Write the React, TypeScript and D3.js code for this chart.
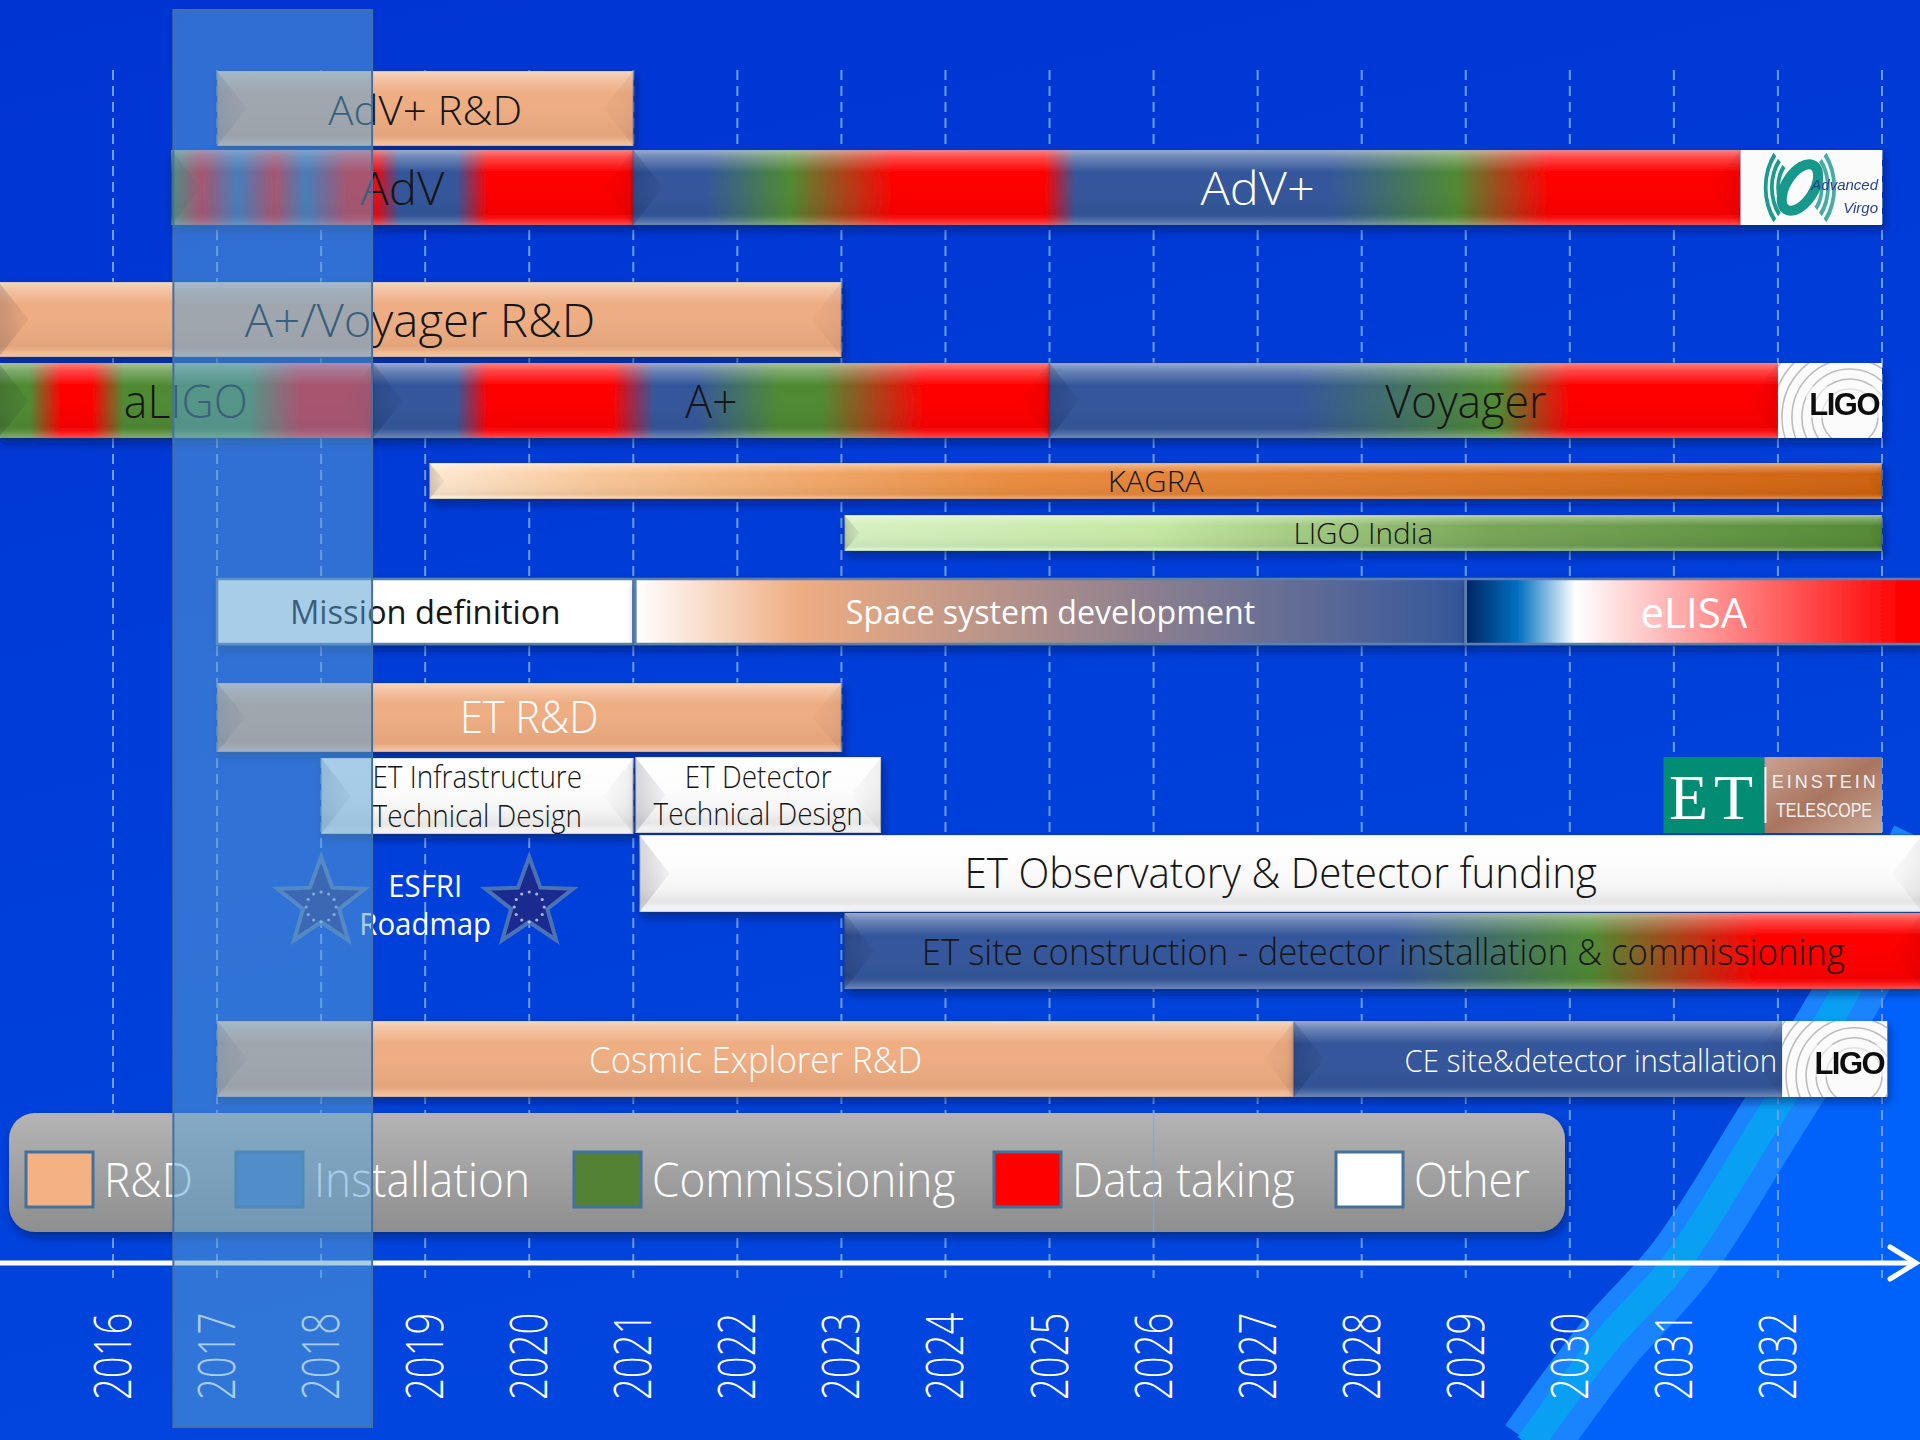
import React, { useEffect, useRef } from 'react';
import * as d3 from 'd3';

const W = 1920;
const H = 1440;

// time axis: grid lines every year, the last one (2033) has no label
const yearLabels = d3.range(2016, 2033);
const gridYears = d3.range(2016, 2034);

const legendNames = ['R&D', 'Installation', 'Commissioning', 'Data taking', 'Other'];
const legendSwatch = ['#f4b183', '#4677bd', '#548235', '#ff0000', '#ffffff'];

// phase changes along the detector bars, [year, phase]
// R = R&D, I = installation, C = commissioning, D = data taking, O = other
const aligoPhases = [[2014.9, 'C'], [2015.2, 'C'], [2015.5, 'D'], [2015.8, 'D'], [2016.1, 'C'], [2017.3, 'C'], [2017.8, 'D'], [2018.5, 'D']];
const advPhases = [[2016.56, 'C'], [2016.85, 'D'], [2017.2, 'I'], [2017.55, 'D'], [2017.85, 'I'], [2018.25, 'D'], [2018.5, 'D'], [2018.75, 'I'], [2019.3, 'I'], [2019.6, 'D'], [2021, 'D']];
const advPlusPhases = [[2021, 'I'], [2021.7, 'I'], [2022.5, 'C'], [2023.5, 'D'], [2024.95, 'D'], [2025.25, 'I'], [2027.7, 'I'], [2028.9, 'C'], [2029.8, 'D'], [2031.64, 'D']];
const aPlusPhases = [[2018.5, 'I'], [2019.3, 'I'], [2019.6, 'D'], [2020.8, 'D'], [2021.2, 'I'], [2021.6, 'I'], [2022.4, 'C'], [2022.8, 'C'], [2023.8, 'D'], [2025, 'D']];
const voyagerPhases = [[2025, 'I'], [2027.4, 'I'], [2029.3, 'C'], [2030.0, 'D'], [2032, 'D']];
const spacePhases = [[2021.02, 'O'], [2022.6, 'R'], [2029, 'I']];
const etSitePhases = [[2023.03, 'I'], [2028.3, 'I'], [2030.2, 'C'], [2031.8, 'D'], [2033.4, 'D']];

const bars = [
  { id: 'advRD', name: 'AdV+ R&D', from: 2017, to: 2021, phases: 'R' },
  { id: 'adv', name: 'AdV', from: 2016.56, to: 2021, phases: advPhases },
  { id: 'advPlus', name: 'AdV+', from: 2021, to: 2031.64, phases: advPlusPhases, logo: 'virgo', logoTo: 2033 },
  { id: 'apRD', name: 'A+/Voyager R&D', from: 2014.9, to: 2023, phases: 'R' },
  { id: 'aligo', name: 'aLIGO', from: 2014.9, to: 2018.5, phases: aligoPhases },
  { id: 'aplus', name: 'A+', from: 2018.5, to: 2025, phases: aPlusPhases },
  { id: 'voyager', name: 'Voyager', from: 2025, to: 2032, phases: voyagerPhases, logo: 'ligo', logoTo: 2033 },
  { id: 'kagra', name: 'KAGRA', from: 2019.04, to: 2033 },
  { id: 'india', name: 'LIGO India', from: 2023.03, to: 2033 },
  { id: 'mission', name: 'Mission definition', from: 2017, to: 2021, phases: 'O' },
  { id: 'space', name: 'Space system development', from: 2021.02, to: 2029, phases: spacePhases },
  { id: 'elisa', name: 'eLISA', from: 2029, to: 2033.4 },
  { id: 'etRD', name: 'ET R&D', from: 2017, to: 2023, phases: 'R' },
  { id: 'etInfra', name: 'ET Infrastructure|Technical Design', from: 2018, to: 2021 },
  { id: 'etDet', name: 'ET Detector|Technical Design', from: 2021.02, to: 2023.38 },
  { id: 'etFund', name: 'ET Observatory & Detector funding', from: 2021.06, to: 2033.4 },
  { id: 'etSite', name: 'ET site construction - detector installation & commissioning', from: 2023.03, to: 2033.4, phases: etSitePhases },
  { id: 'ceRD', name: 'Cosmic Explorer R&D', from: 2017, to: 2027.35, phases: 'R' },
  { id: 'ceInst', name: 'CE site&detector installation', from: 2027.35, to: 2032.04, phases: 'I', logo: 'ligo', logoTo: 2033.05 },
];

const etLogo = { from: 2030.9, to: 2033 };
const esfriYears = [2018, 2020];
const highlight = { from: 2016.58, to: 2018.49 };

const FONT = "'Open Sans', 'Segoe UI', sans-serif";
const INK = '#161616';

const phaseFill = { R: '#efad82', I: '#33569b', C: '#4f8a32', D: '#ff0000', O: '#ffffff' };

// row geometry and look of each bar
const look = {
  advRD: { y: 71, h: 75, fs: 40, sx: 1.05, base: [125], ink: INK },
  adv: { y: 150, h: 75, fs: 46, sx: 1.03, base: [205], ink: INK },
  advPlus: { y: 150, h: 75, fs: 46, sx: 1.06, base: [205], ink: '#ffffff' },
  apRD: { y: 282, h: 75, fs: 46, sx: 1.03, base: [337], ink: INK },
  aligo: { y: 363, h: 75, fs: 46, sx: 0.97, base: [418], ink: INK },
  aplus: { y: 363, h: 75, fs: 46, sx: 0.97, base: [418], ink: INK },
  voyager: { y: 363, h: 75, fs: 46, sx: 0.97, base: [418], ink: INK },
  kagra: { y: 463, h: 36, fs: 30, sx: 1.03, base: [492], ink: INK, grad: [[0, '#fde8cf'], [0.12, '#f7c596'], [0.4, '#e98c40'], [1, '#cf620f']] },
  india: { y: 515, h: 36, fs: 30, sx: 0.99, base: [544], ink: INK, grad: [[0, '#d6f0c0'], [0.3, '#c5e8a3'], [0.62, '#78a658'], [1, '#548a34']] },
  mission: { y: 579, h: 65, fs: 33, sx: 0.99, base: [624], ink: INK, flat: true, weight: 400 },
  space: { y: 579, h: 65, fs: 33, sx: 0.975, base: [624], ink: '#ffffff', flat: true, weight: 400 },
  elisa: { y: 579, h: 65, fs: 42, sx: 1.0, base: [628], ink: '#ffffff', flat: true, weight: 400, grad: [[0, '#002462'], [0.114, '#0070c0'], [0.24, '#ffffff'], [0.52, '#ff9a9a'], [0.96, '#ff0000'], [1, '#ff0000']] },
  etRD: { y: 683, h: 69, fs: 44, sx: 0.94, base: [733], ink: '#ffffff' },
  etInfra: { y: 758, h: 76, fs: 31, sx: 0.9, base: [788, 827], ink: INK, white: true },
  etDet: { y: 757, h: 76, fs: 31, sx: 0.9, base: [788, 825], ink: INK, white: true },
  etFund: { y: 835, h: 77, fs: 42, sx: 0.96, base: [888], ink: INK, white: true },
  etSite: { y: 913, h: 76, fs: 37, sx: 0.94, base: [965], ink: INK },
  ceRD: { y: 1021, h: 76, fs: 37, sx: 0.94, base: [1073], ink: '#ffffff' },
  ceInst: { y: 1021, h: 76, fs: 32, sx: 0.92, base: [1072], ink: '#ffffff', anchor: 'end' },
};

const App = () => {
  const svgRef = useRef(null);

  useEffect(() => {
    if (!svgRef.current) return;
    const svg = d3.select(svgRef.current);
    svg.selectAll('*').remove();

    const x = d3.scaleLinear().domain([2016, 2033]).range([113, 1882]);
    const defs = svg.append('defs');

    const addText = (g, str, tx, ty, fs, fill, anchor = 'middle', weight = 300, sx = 0.9) =>
      g
        .append('text')
        .attr('transform', `translate(${tx},${ty}) scale(${sx},1)`)
        .attr('text-anchor', anchor)
        .attr('font-family', FONT)
        .attr('font-size', fs)
        .attr('font-weight', weight)
        .attr('fill', fill)
        .text(str);

    // background
    const bg = defs.append('linearGradient').attr('id', 'bg').attr('x1', 0).attr('y1', 0).attr('x2', 0.3).attr('y2', 1);
    bg.append('stop').attr('offset', 0).attr('stop-color', '#0034d2');
    bg.append('stop').attr('offset', 1).attr('stop-color', '#0046de');

    const gloss = defs.append('linearGradient').attr('id', 'gloss').attr('x1', 0).attr('y1', 0).attr('x2', 0).attr('y2', 1);
    [
      [0, '#fff', 0.5],
      [0.1, '#fff', 0.28],
      [0.3, '#fff', 0],
      [0.84, '#000', 0.05],
      [0.93, '#fff', 0.12],
      [1, '#fff', 0.3],
    ].forEach(([o, c, a]) => gloss.append('stop').attr('offset', o).attr('stop-color', c).attr('stop-opacity', a));

    // soft bevel facets at the bar ends
    const bevelL = defs.append('linearGradient').attr('id', 'bevelL').attr('x1', 0).attr('y1', 0).attr('x2', 1).attr('y2', 0);
    bevelL.append('stop').attr('offset', 0).attr('stop-color', '#000020').attr('stop-opacity', 0.16);
    bevelL.append('stop').attr('offset', 1).attr('stop-color', '#000020').attr('stop-opacity', 0.04);
    const bevelR = defs.append('linearGradient').attr('id', 'bevelR').attr('x1', 1).attr('y1', 0).attr('x2', 0).attr('y2', 0);
    bevelR.append('stop').attr('offset', 0).attr('stop-color', '#000000').attr('stop-opacity', 0.06);
    bevelR.append('stop').attr('offset', 1).attr('stop-color', '#000000').attr('stop-opacity', 0.01);

    const whiteFill = defs.append('linearGradient').attr('id', 'whiteFill').attr('x1', 0).attr('y1', 0).attr('x2', 0).attr('y2', 1);
    whiteFill.append('stop').attr('offset', 0).attr('stop-color', '#ffffff');
    whiteFill.append('stop').attr('offset', 0.7).attr('stop-color', '#fbfbfb');
    whiteFill.append('stop').attr('offset', 1).attr('stop-color', '#ececec');

    const legendFill = defs.append('linearGradient').attr('id', 'legendFill').attr('x1', 0).attr('y1', 0).attr('x2', 0).attr('y2', 1);
    legendFill.append('stop').attr('offset', 0).attr('stop-color', '#b4b4b4');
    legendFill.append('stop').attr('offset', 1).attr('stop-color', '#8e8e8e');

    const shadow = defs.append('filter').attr('id', 'shadow').attr('x', '-5%').attr('y', '-30%').attr('width', '112%').attr('height', '170%');
    shadow
      .append('feDropShadow')
      .attr('dx', 2)
      .attr('dy', 5)
      .attr('stdDeviation', 4)
      .attr('flood-color', '#001040')
      .attr('flood-opacity', 0.5);

    svg.append('rect').attr('width', W).attr('height', H).attr('fill', 'url(#bg)');

    // light swoosh in the lower right corner
    const curve = d3.line().curve(d3.curveCatmullRom);
    const swooshRight = [[1572, 1445], [1642, 1345], [1715, 1262], [1792, 1130], [1882, 989], [1945, 850]];
    svg
      .append('path')
      .attr('d', curve(swooshRight) + `L1945,1445Z`)
      .attr('fill', '#0062fb');
    const swooshMid = [[1533, 1445], [1607, 1345], [1681, 1262], [1765, 1130], [1851, 989], [1925, 840]];
    svg.append('path').attr('d', curve(swooshMid)).attr('fill', 'none').attr('stroke', '#1a84ff').attr('stroke-width', 68);
    svg
      .append('path')
      .attr('d', curve(swooshMid.map(([a, b]) => [a - 4, b])))
      .attr('fill', 'none')
      .attr('stroke', '#08a2f2')
      .attr('stroke-width', 28)
      .attr('opacity', 0.9);

    // grid
    svg
      .append('g')
      .selectAll('line')
      .data(gridYears)
      .join('line')
      .attr('x1', (d) => x(d))
      .attr('x2', (d) => x(d))
      .attr('y1', 70)
      .attr('y2', 1278)
      .attr('stroke', '#6c9ef2')
      .attr('stroke-width', 2)
      .attr('stroke-dasharray', '10,6');

    const barLayer = svg.append('g');

    const phaseGradient = (id, from, to, phases) => {
      const g = defs
        .append('linearGradient')
        .attr('id', id)
        .attr('gradientUnits', 'userSpaceOnUse')
        .attr('x1', x(from))
        .attr('x2', x(to))
        .attr('y1', 0)
        .attr('y2', 0);
      phases.forEach(([yr, p]) => g.append('stop').attr('offset', (yr - from) / (to - from)).attr('stop-color', phaseFill[p]));
      return `url(#${id})`;
    };

    const fracGradient = (id, stops) => {
      const g = defs.append('linearGradient').attr('id', id).attr('x1', 0).attr('x2', 1).attr('y1', 0).attr('y2', 0);
      stops.forEach(([o, c]) => g.append('stop').attr('offset', o).attr('stop-color', c));
      return `url(#${id})`;
    };

    const virgoLogo = (g, x0, x1, y, h) => {
      g.append('rect').attr('x', x0).attr('y', y).attr('width', x1 - x0).attr('height', h).attr('fill', '#fbfbfb');
      const cx = x0 + (x1 - x0) * 0.42;
      const cy = y + h / 2;
      const lg = g.append('g').attr('transform', `translate(${cx},${cy}) scale(0.78,1.1)`);
      const arc = d3.arc();
      [28, 36, 44].forEach((r) => {
        lg.append('path')
          .attr('d', arc({ innerRadius: r - 2.4, outerRadius: r + 2.4, startAngle: -Math.PI / 2 - 0.75, endAngle: -Math.PI / 2 + 0.75 }))
          .attr('fill', '#1a9a8e');
        lg.append('path')
          .attr('d', arc({ innerRadius: r - 2.4, outerRadius: r + 2.4, startAngle: Math.PI / 2 - 0.75, endAngle: Math.PI / 2 + 0.75 }))
          .attr('fill', '#1a9a8e')
          .attr('opacity', 0.8);
      });
      g.append('ellipse')
        .attr('cx', cx)
        .attr('cy', cy)
        .attr('rx', 14)
        .attr('ry', 26)
        .attr('transform', `rotate(32,${cx},${cy})`)
        .attr('fill', 'none')
        .attr('stroke', '#14988a')
        .attr('stroke-width', 10);
      ['Advanced', 'Virgo'].forEach((t, i) =>
        g
          .append('text')
          .attr('x', x1 - 4)
          .attr('y', cy + 2 + i * 23)
          .attr('text-anchor', 'end')
          .attr('font-family', "'Liberation Sans', sans-serif")
          .attr('font-style', 'italic')
          .attr('font-size', 15)
          .attr('fill', '#2b3f8c')
          .text(t)
      );
    };

    let clipId = 0;
    const ligoLogo = (g, x0, x1, y, h) => {
      const id = `ligoClip${clipId++}`;
      defs.append('clipPath').attr('id', id).append('rect').attr('x', x0).attr('y', y).attr('width', x1 - x0).attr('height', h);
      g.append('rect').attr('x', x0).attr('y', y).attr('width', x1 - x0).attr('height', h).attr('fill', '#fbfbfb');
      const cg = g.append('g').attr('clip-path', `url(#${id})`);
      [28, 38, 48, 58, 68, 78, 88].forEach((r) =>
        cg
          .append('circle')
          .attr('cx', x0 + 72)
          .attr('cy', y + h * 0.72)
          .attr('r', r)
          .attr('fill', 'none')
          .attr('stroke', '#bdbdbd')
          .attr('stroke-width', 1.6)
      );
      cg.append('rect').attr('x', x0 + 28).attr('y', y + h * 0.55 - 18).attr('width', x1 - x0 - 28).attr('height', 32).attr('fill', '#fbfbfb').attr('opacity', 0.6);
      g.append('text')
        .attr('x', x1 - 3)
        .attr('y', y + h * 0.55 + 11)
        .attr('text-anchor', 'end')
        .attr('font-family', "'Liberation Sans', sans-serif")
        .attr('font-weight', 700)
        .attr('font-size', 31)
        .attr('letter-spacing', -1.5)
        .attr('fill', '#111')
        .text('LIGO');
    };

    bars.forEach((b) => {
      const L = look[b.id];
      const x0 = Math.max(x(b.from), -2);
      const x1 = Math.min(x(b.to), W + 2);
      const { y, h } = L;
      let fill;
      if (Array.isArray(b.phases)) fill = phaseGradient(`g-${b.id}`, b.from, b.to, b.phases);
      else if (b.phases) fill = phaseFill[b.phases];
      else if (L.grad) fill = fracGradient(`g-${b.id}`, L.grad);
      else fill = 'url(#whiteFill)';
      if (L.white) fill = 'url(#whiteFill)';

      const g = barLayer.append('g').attr('filter', 'url(#shadow)');
      g.append('rect')
        .attr('x', x0)
        .attr('y', y)
        .attr('width', x1 - x0)
        .attr('height', h)
        .attr('fill', fill)
        .attr('stroke', L.flat ? '#5b7fb3' : 'rgba(40,60,110,0.35)')
        .attr('stroke-width', L.flat ? 2.5 : 1.5);

      if (!L.flat) {
        g.append('rect').attr('x', x0).attr('y', y).attr('width', x1 - x0).attr('height', h).attr('fill', 'url(#gloss)');
        const bw = Math.min(30, h * 0.42);
        g.append('path').attr('d', `M${x0},${y}L${x0 + bw},${y + h / 2}L${x0},${y + h}Z`).attr('fill', 'url(#bevelL)');
        g.append('path').attr('d', `M${x1},${y}L${x1 - bw},${y + h / 2}L${x1},${y + h}Z`).attr('fill', 'url(#bevelR)');
      }

      let cx = (x0 + x1) / 2;
      if (b.logo) {
        const lx1 = x(b.logoTo);
        if (b.logo === 'virgo') virgoLogo(g, x1, lx1, y, h);
        else ligoLogo(g, x1, lx1, y, h);
        cx = (x0 + lx1) / 2;
      }
      const lines = b.name.split('|');
      const tx = L.anchor === 'end' ? x1 - 5 : cx;
      lines.forEach((line, i) => addText(barLayer, line, tx, L.base[i], L.fs, L.ink, L.anchor || 'middle', L.weight || 300, L.sx));
    });

    // Einstein Telescope logo
    {
      const x0 = x(etLogo.from);
      const x1 = x(etLogo.to);
      const y = 757;
      const h = 76;
      const split = x0 + 101;
      const g = svg.append('g');
      const brown = defs.append('linearGradient').attr('id', 'etBrown').attr('x1', 0).attr('y1', 0).attr('x2', 1).attr('y2', 1);
      brown.append('stop').attr('offset', 0).attr('stop-color', '#c9a292');
      brown.append('stop').attr('offset', 0.5).attr('stop-color', '#a9755f');
      brown.append('stop').attr('offset', 1).attr('stop-color', '#c8a898');
      g.append('rect').attr('x', x0).attr('y', y).attr('width', split - x0).attr('height', h).attr('fill', '#008d74');
      g.append('rect').attr('x', split).attr('y', y).attr('width', x1 - split).attr('height', h).attr('fill', 'url(#etBrown)');
      g.append('line').attr('x1', split + 1).attr('x2', split + 1).attr('y1', y + 10).attr('y2', y + h - 10).attr('stroke', '#f4f4f4').attr('stroke-width', 2);
      g.append('text')
        .attr('x', (x0 + split) / 2)
        .attr('y', y + 62)
        .attr('text-anchor', 'middle')
        .attr('font-family', "'Liberation Serif', serif")
        .attr('font-size', 64)
        .attr('letter-spacing', 6)
        .attr('fill', '#ffffff')
        .text('ET');
      g.append('text')
        .attr('x', (split + x1) / 2 + 2)
        .attr('y', y + 31)
        .attr('text-anchor', 'middle')
        .attr('font-family', "'Liberation Sans', sans-serif")
        .attr('font-size', 18)
        .attr('letter-spacing', 3)
        .attr('fill', '#f6f0ee')
        .text('EINSTEIN');
      g.append('text')
        .attr('x', (split + x1) / 2 + 1)
        .attr('y', y + 60)
        .attr('text-anchor', 'middle')
        .attr('font-family', "'Liberation Sans Narrow', 'Liberation Sans', sans-serif")
        .attr('font-size', 20)
        .attr('fill', '#f6f0ee')
        .attr('transform', `translate(${(split + x1) / 2},0) scale(0.8,1) translate(${-(split + x1) / 2},0)`)
        .text('TELESCOPE');
    }

    // ESFRI roadmap stars
    const starPath = (cx, cy, R, r) =>
      'M' +
      d3
        .range(10)
        .map((i) => {
          const a = -Math.PI / 2 + (i * Math.PI) / 5;
          const rr = i % 2 ? r : R;
          return [cx + rr * Math.cos(a), cy + rr * Math.sin(a)].join(',');
        })
        .join('L') +
      'Z';
    esfriYears.forEach((yr) => {
      const cx = x(yr);
      const cy = 903;
      svg.append('path').attr('d', starPath(cx, cy, 46, 19)).attr('fill', '#1b2a8e').attr('stroke', '#4b72b6').attr('stroke-width', 4);
      d3.range(12).forEach((i) => {
        const a = (i * Math.PI) / 6;
        svg
          .append('circle')
          .attr('cx', cx + 15 * Math.cos(a))
          .attr('cy', cy + 4 + 15 * Math.sin(a))
          .attr('r', 1.6)
          .attr('fill', '#dfe6ff')
          .attr('opacity', 0.75);
      });
    });
    addText(svg, 'ESFRI', x(2019), 897, 31, '#ffffff', 'middle', 400, 0.95);
    addText(svg, 'Roadmap', x(2019), 935, 31, '#ffffff', 'middle', 400, 0.95);

    // legend
    const legend = svg.append('g');
    legend
      .append('rect')
      .attr('x', 9)
      .attr('y', 1113)
      .attr('width', 1556)
      .attr('height', 119)
      .attr('rx', 26)
      .attr('fill', 'url(#legendFill)')
      .attr('filter', 'url(#shadow)');
    const legendX = [26, 236, 574, 994, 1336];
    legendNames.forEach((name, i) => {
      legend
        .append('rect')
        .attr('x', legendX[i])
        .attr('y', 1152)
        .attr('width', 67)
        .attr('height', 55)
        .attr('fill', legendSwatch[i])
        .attr('stroke', '#41719c')
        .attr('stroke-width', 3);
      addText(legend, name, legendX[i] + 78, 1197, 48, '#ffffff', 'start', 300, 0.92);
    });
    legend
      .append('line')
      .attr('x1', x(2026))
      .attr('x2', x(2026))
      .attr('y1', 1113)
      .attr('y2', 1232)
      .attr('stroke', '#7aa6ea')
      .attr('stroke-width', 1.5)
      .attr('opacity', 0.7);

    // time axis
    svg.append('line').attr('x1', 0).attr('x2', 1914).attr('y1', 1263).attr('y2', 1263).attr('stroke', '#fff').attr('stroke-width', 5);
    svg
      .append('path')
      .attr('d', 'M1890,1247L1916,1263L1890,1279')
      .attr('fill', 'none')
      .attr('stroke', '#fff')
      .attr('stroke-width', 5)
      .attr('stroke-linecap', 'round');
    svg
      .append('g')
      .selectAll('text')
      .data(yearLabels)
      .join('text')
      .attr('transform', (d) => `translate(${x(d) + 18},1400) rotate(-90) scale(0.75,1)`)
      .attr('font-family', FONT)
      .attr('font-size', 51)
      .attr('font-weight', 300)
      .attr('fill', '#ffffff')
      .text((d) => d);

    // translucent highlight column
    svg
      .append('rect')
      .attr('x', x(highlight.from))
      .attr('y', 10)
      .attr('width', x(highlight.to) - x(highlight.from))
      .attr('height', 1417)
      .attr('fill', 'rgb(90,161,212)')
      .attr('fill-opacity', 0.53)
      .attr('stroke', '#46709f')
      .attr('stroke-width', 2);

    return () => {
      svg.selectAll('*').remove();
    };
  }, []);

  return <svg ref={svgRef} width={W} height={H} style={{ position: 'absolute', left: 0, top: 0, display: 'block' }} />;
};

export default App;
